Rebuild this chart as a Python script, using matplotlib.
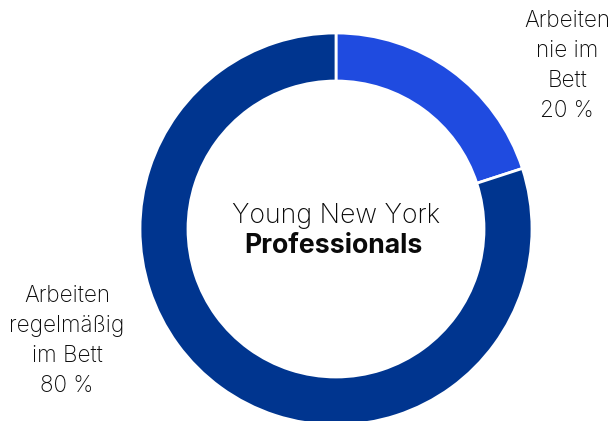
import matplotlib
matplotlib.use("Agg")
import matplotlib.pyplot as plt

# Share of young New York professionals who work in bed
categories = ["Arbeiten\nnie im\nBett", "Arbeiten\nregelmäßig\nim Bett"]
shares = [20, 80]
colors = ["#1f4be0", "#00358f"]

plt.rcParams["font.family"] = ["Inter", "DejaVu Sans"]

W, H, DPI = 613, 421, 100
fig = plt.figure(figsize=(W / DPI, H / DPI), dpi=DPI)
ax = fig.add_axes([0, 0, 1, 1])

# donut geometry in pixels
cx, cy, R, ring = 336, 229, 196, 48
ax.pie(shares, colors=colors, startangle=90, counterclock=False,
       radius=1.0, wedgeprops=dict(width=ring / R, edgecolor="white", linewidth=2))

ax.set_xlim(-cx / R, (W - cx) / R)
ax.set_ylim(-(H - cy) / R, cy / R)
ax.set_aspect("equal", adjustable="box")
ax.axis("off")


def px(x, y):
    return (x - cx) / R, (cy - y) / R


# multi-line labels are anchored on the baseline of their last line
labels = [f"{c}\n{v} %" for c, v in zip(categories, shares)]
ax.text(*px(567, 117), labels[0], ha="center", va="baseline", fontsize=16.2,
        fontweight="light", color="#0a0a0a", linespacing=1.47)
ax.text(*px(67, 392), labels[1], ha="center", va="baseline", fontsize=16.2,
        fontweight="light", color="#0a0a0a", linespacing=1.47)

ax.text(*px(336, 223), "Young New York", ha="center", va="baseline", fontsize=19.2,
        fontweight="light", color="#0a0a0a")
ax.text(*px(333, 253), "Professionals", ha="center", va="baseline", fontsize=19.2,
        fontweight="bold", color="#0a0a0a")

fig.savefig("out.png", dpi=DPI)
